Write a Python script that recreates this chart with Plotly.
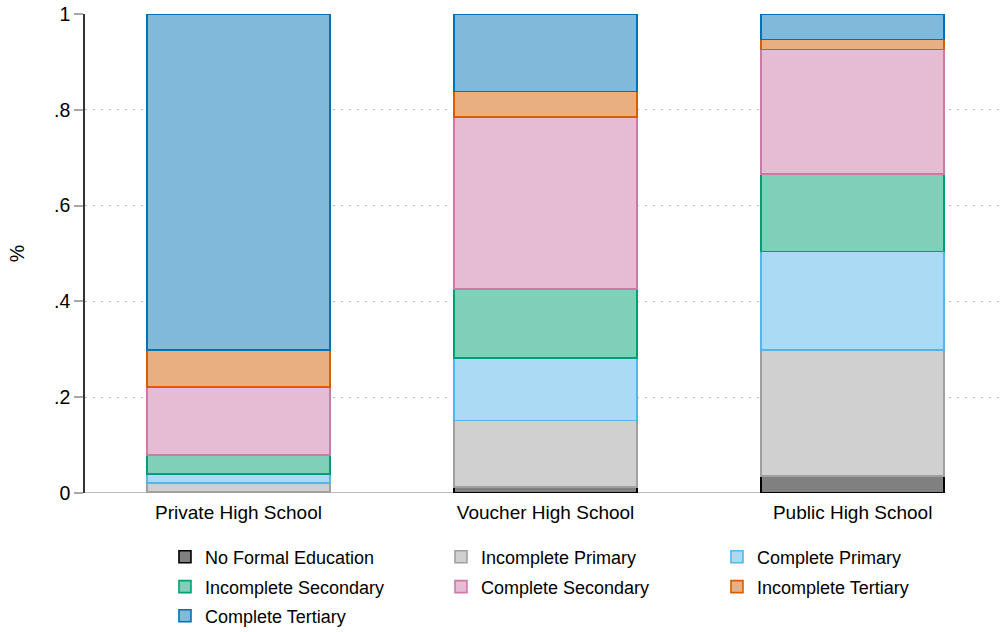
import plotly.graph_objects as go

categories = ["Private High School", "Voucher High School", "Public High School"]
levels = ["No Formal Education", "Incomplete Primary", "Complete Primary",
          "Incomplete Secondary", "Complete Secondary", "Incomplete Tertiary",
          "Complete Tertiary"]

no_formal = [0.002, 0.0125, 0.035]
incomplete_primary = [0.019, 0.139, 0.264]
complete_primary = [0.019, 0.130, 0.205]
incomplete_secondary = [0.039, 0.145, 0.162]
complete_secondary = [0.142, 0.359, 0.260]
incomplete_tertiary = [0.078, 0.053, 0.021]
complete_tertiary = [0.701, 0.162, 0.053]

series = [no_formal, incomplete_primary, complete_primary, incomplete_secondary,
          complete_secondary, incomplete_tertiary, complete_tertiary]

line_colors = ["#000000", "#a0a0a0", "#56B4E9", "#009E73", "#CC79A7", "#D55E00", "#0072B2"]
fill_colors = ["#808080", "#d0d0d0", "#abdaf4", "#80cfb9", "#e6bcd3", "#eaaf80", "#80b9d9"]
legend_rows = ["legend", "legend", "legend", "legend2", "legend2", "legend2", "legend3"]

ytick_vals = [0, 0.2, 0.4, 0.6, 0.8, 1]
ytick_text = ["0", ".2", ".4", ".6", ".8", "1"]

FONT = "Liberation Sans, Arial, Helvetica, sans-serif"

fig = go.Figure()
for name, vals, lc, fc, lg in zip(levels, series, line_colors, fill_colors, legend_rows):
    fig.add_trace(go.Bar(
        x=categories, y=vals, name=name, legend=lg,
        marker=dict(color=fc, line=dict(color=lc, width=1.6)),
        width=0.595,
    ))

def leg(y):
    return dict(
        orientation="h", x=0.0874, xanchor="left", y=y, yanchor="middle",
        entrywidth=231, entrywidthmode="pixels",
        font=dict(family=FONT, size=18, color="#000000"),
        traceorder="normal", itemclick=False, bgcolor="rgba(0,0,0,0)",
    )

fig.update_layout(
    barmode="stack",
    width=1000, height=632,
    margin=dict(l=85, r=0, t=14, b=139, autoexpand=False),
    plot_bgcolor="white", paper_bgcolor="white",
    font=dict(family=FONT, size=19, color="#000000"),
    showlegend=True,
    legend=leg(-0.1336),
    legend2=leg(-0.196),
    legend3=leg(-0.2568),
    xaxis=dict(
        range=[-0.5, 2.48], showgrid=False, showline=False, zeroline=False,
        ticks="outside", ticklen=2, tickcolor="rgba(0,0,0,0)",
        tickfont=dict(family=FONT, size=19), automargin=False,
        ticklabeloverflow="allow",
    ),
    yaxis=dict(
        range=[0, 1.0], tickvals=ytick_vals, ticktext=ytick_text,
        showgrid=True, gridcolor="#b8b8b8", gridwidth=1.3, griddash="2px,6px",
        zeroline=False, showline=True, linecolor="#333333", linewidth=1.5,
        ticks="outside", ticklen=9, tickwidth=1.5, tickcolor="#a8a8a8",
        tickfont=dict(family=FONT, size=19.5), automargin=False,
        ticklabeloverflow="allow",
        title=dict(text="%", font=dict(family=FONT, size=19.5), standoff=24),
    ),
    shapes=[dict(type="line", xref="x", yref="y", x0=-0.5, x1=2, y0=0, y1=0,
                 line=dict(color="#a8a8a8", width=1.5), layer="below")],
)

fig.write_html("out.html", config={"displayModeBar": False},
               post_script="document.body.style.margin='0';document.body.style.overflow='hidden';")
